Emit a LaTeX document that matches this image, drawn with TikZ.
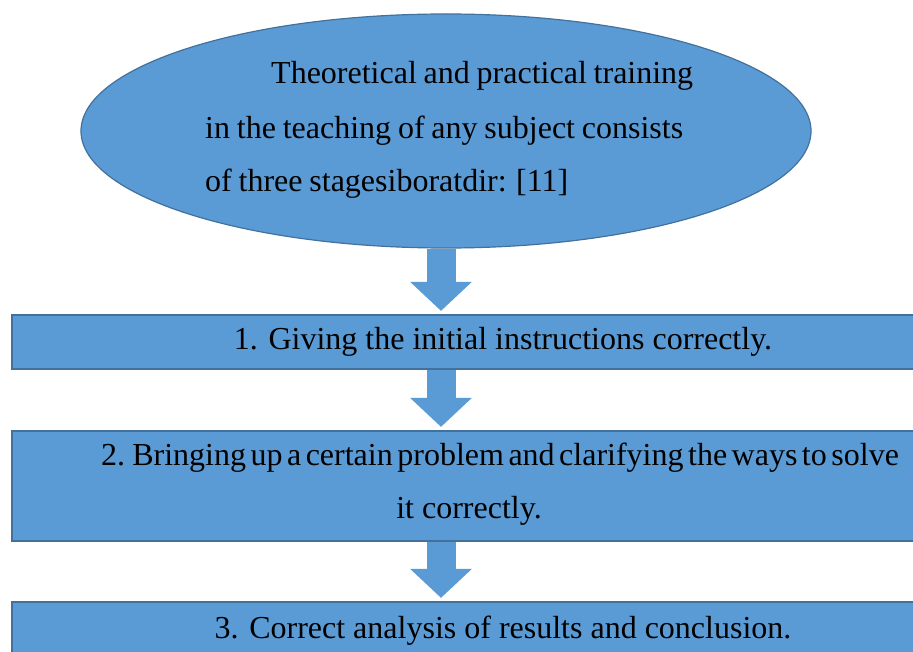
\documentclass[tikz,border=0pt]{standalone}
\usepackage{fontspec}
\setmainfont{Liberation Serif}
\usetikzlibrary{arrows.meta,shapes.geometric}
\definecolor{fillblue}{HTML}{5B9BD5}
\definecolor{edgeblue}{HTML}{41719C}
\begin{document}
\begin{tikzpicture}[x=1pt,y=-1pt,
  shapebox/.style={fill=fillblue,draw=edgeblue,line width=1.2pt,inner sep=0pt},
  lbl/.style={inner sep=0pt,font=\fontsize{32}{40}\selectfont,text=black},
  tightsp/.style={execute at begin node={\spaceskip=4.5pt\relax}},
  midsp/.style={execute at begin node={\spaceskip=6.8pt\relax}},
  arr/.style={draw=fillblue,line width=29pt,-{Triangle[width=60pt,length=29pt]},shorten >=3.5pt}]
\clip (0,0) rectangle (913,652);
\fill[white] (0,0) rectangle (913,652);
% shapes
\node[shapebox,ellipse,minimum width=730,minimum height=234] (e) at (446,131) {};
\node[shapebox,rectangle,minimum width=980,minimum height=54] (b1) at (502,342) {};
\node[shapebox,rectangle,minimum width=980,minimum height=110] (b2) at (502,486) {};
\node[shapebox,rectangle,minimum width=980,minimum height=60] (b3) at (502,632) {};
\coordinate (ax) at (441,0);
% connectors
\draw[arr] (ax |- e.south) -- (ax |- b1.north);
\draw[arr] (ax |- b1.south) -- (ax |- b2.north);
\draw[arr] (ax |- b2.south) -- (ax |- b3.north);
% texts
\node[lbl,midsp,anchor=base west] (te1) at (271,84) {Theoretical and practical training};
\node[lbl,midsp,anchor=base west] (te2) at (205,139) {in the teaching of any subject consists};
\node[lbl,midsp,anchor=base west] (te3) at (205,192) {of three stagesiboratdir: [11]};
\node[lbl,anchor=base] (t1) at (503,349) {1. Giving the initial instructions correctly.};
\node[lbl,tightsp,anchor=base] (t2a) at (500,465) {2. Bringing up a certain problem and clarifying the ways to solve};
\node[lbl,anchor=base] (t2b) at (469,518) {it correctly.};
\node[lbl,anchor=base] (t3) at (503,638) {3. Correct analysis of results and conclusion.};
\end{tikzpicture}
\end{document}
